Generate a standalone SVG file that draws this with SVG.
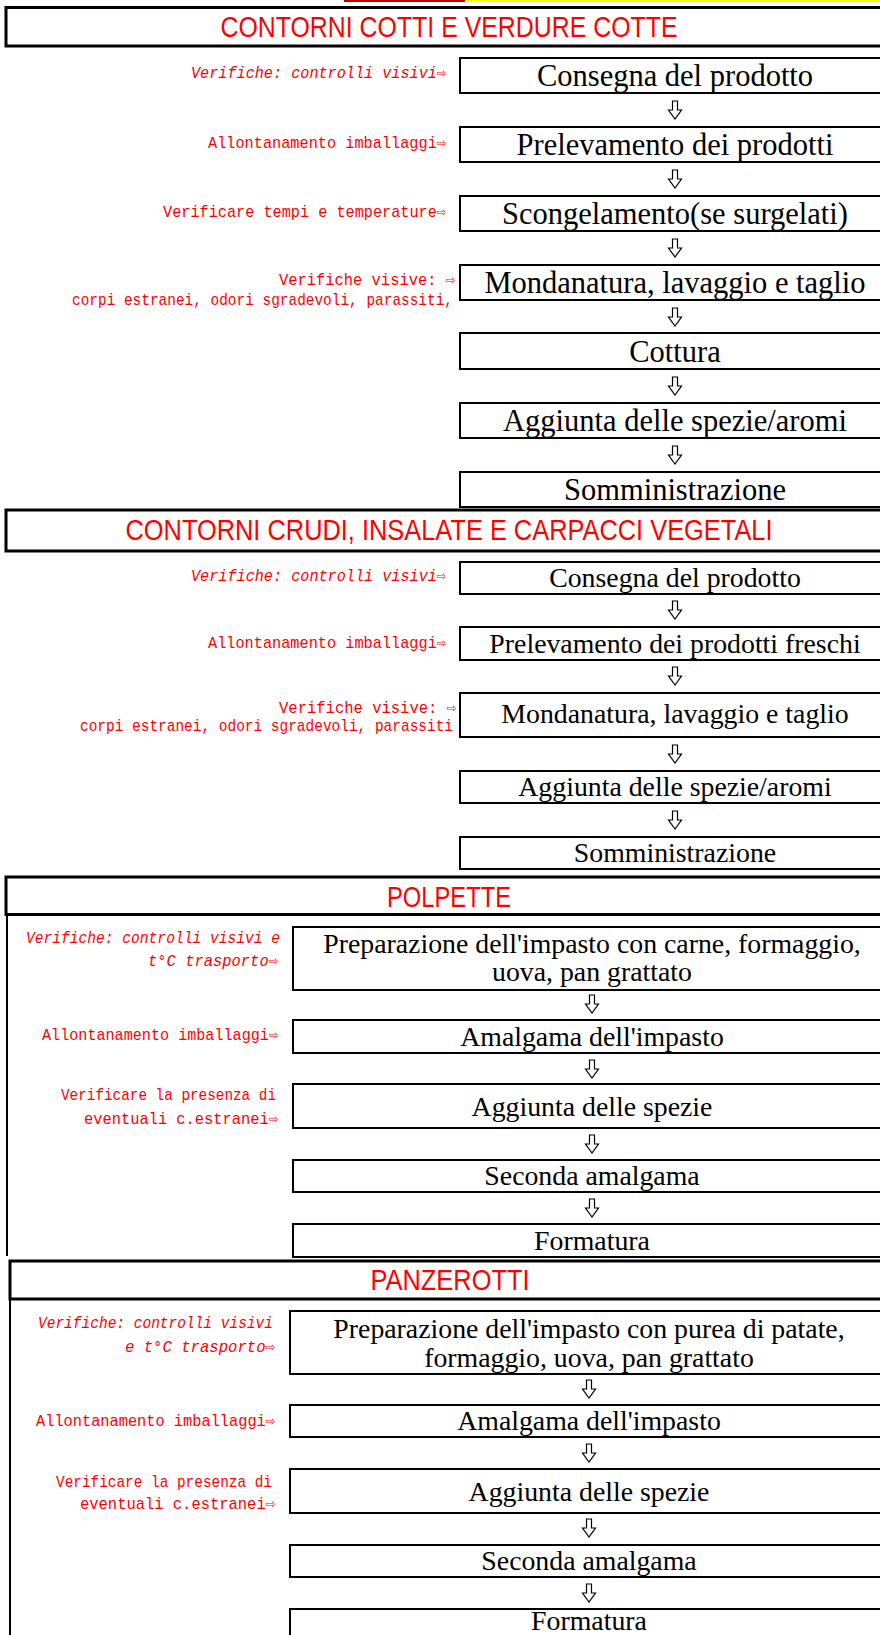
<svg xmlns="http://www.w3.org/2000/svg" xmlns:xlink="http://www.w3.org/1999/xlink" width="880" height="1635" viewBox="0 0 880 1635">
<style>
.hdr{fill:#fff;stroke:#000;stroke-width:3}
.hdrt{font-family:"Liberation Sans",Arial,sans-serif;font-size:29.5px;fill:#ff0000}
.box{fill:#fff;stroke:#000;stroke-width:2}
.t1{font-family:"Liberation Serif","Times New Roman",serif;font-size:30.5px;fill:#000}
.t2{font-family:"Liberation Serif","Times New Roman",serif;font-size:27.8px;fill:#000}
.ann{font-family:"Liberation Mono","DejaVu Sans Mono","DejaVu Sans",monospace;font-size:17px;fill:#ff0000}
.it{font-style:italic}
.arr{fill:#fff;stroke:#000;stroke-width:1.2}
.side{stroke:#000;stroke-width:2;fill:none}
</style>
<defs>
<path id="dn" d="M-2.5,-9 H2.5 V0 H6.5 L0,9 L-6.5,0 H-2.5 Z"/>
</defs>
<rect width="880" height="1635" fill="#fff"/>
<g id="topstrip">
<rect x="344" y="0" width="121" height="2" fill="#c00000"/>
<rect x="465" y="0" width="415" height="2" fill="#ffff00"/>
</g>

<!-- Section 1 -->
<g id="h1"><rect class="hdr" x="6" y="7.5" width="900" height="38.5"/><text class="hdrt" text-anchor="middle" x="449" y="37" textLength="457" lengthAdjust="spacingAndGlyphs">CONTORNI COTTI E VERDURE COTTE</text></g>
<g id="s1n1"><rect class="box" x="460" y="58" width="430" height="35"/><text class="t1" text-anchor="middle" x="675" y="86">Consegna del prodotto</text></g>
<g id="s1n2"><rect class="box" x="460" y="127" width="430" height="35"/><text class="t1" text-anchor="middle" x="675" y="155">Prelevamento dei prodotti</text></g>
<g id="s1n3"><rect class="box" x="460" y="196" width="430" height="35"/><text class="t1" text-anchor="middle" x="675" y="224">Scongelamento(se surgelati)</text></g>
<g id="s1n4"><rect class="box" x="460" y="265" width="430" height="35"/><text class="t1" text-anchor="middle" x="675" y="293">Mondanatura, lavaggio e taglio</text></g>
<g id="s1n5"><rect class="box" x="460" y="333" width="430" height="36"/><text class="t1" text-anchor="middle" x="675" y="362">Cottura</text></g>
<g id="s1n6"><rect class="box" x="460" y="403" width="430" height="35"/><text class="t1" text-anchor="middle" x="675" y="431">Aggiunta delle spezie/aromi</text></g>
<g id="s1n7"><rect class="box" x="460" y="472" width="430" height="35"/><text class="t1" text-anchor="middle" x="675" y="500">Somministrazione</text></g>
<g id="s1a1"><text class="ann it" text-anchor="end" x="446" y="78" textLength="255" lengthAdjust="spacingAndGlyphs">Verifiche: controlli visivi⇨</text></g>
<g id="s1a2"><text class="ann" text-anchor="end" x="446" y="148" textLength="238" lengthAdjust="spacingAndGlyphs">Allontanamento imballaggi⇨</text></g>
<g id="s1a3"><text class="ann" text-anchor="end" x="446" y="217" textLength="283" lengthAdjust="spacingAndGlyphs">Verificare tempi e temperature⇨</text></g>
<g id="s1a4"><text class="ann" text-anchor="end" x="455" y="285" textLength="176" lengthAdjust="spacingAndGlyphs">Verifiche visive: ⇨</text><text class="ann" text-anchor="end" x="453" y="305" textLength="381" lengthAdjust="spacingAndGlyphs">corpi estranei, odori sgradevoli, parassiti,</text></g>

<!-- Section 2 -->
<g id="h2"><rect class="hdr" x="6" y="510" width="900" height="41"/><text class="hdrt" text-anchor="middle" x="449" y="540" textLength="647" lengthAdjust="spacingAndGlyphs">CONTORNI CRUDI, INSALATE E CARPACCI VEGETALI</text></g>
<g id="s2n1"><rect class="box" x="460" y="562" width="430" height="32"/><text class="t2" text-anchor="middle" x="675" y="587">Consegna del prodotto</text></g>
<g id="s2n2"><rect class="box" x="460" y="627" width="430" height="33"/><text class="t2" text-anchor="middle" x="675" y="653">Prelevamento dei prodotti freschi</text></g>
<g id="s2n3"><rect class="box" x="460" y="693" width="430" height="44"/><text class="t2" text-anchor="middle" x="675" y="723">Mondanatura, lavaggio e taglio</text></g>
<g id="s2n4"><rect class="box" x="460" y="771" width="430" height="32"/><text class="t2" text-anchor="middle" x="675" y="796">Aggiunta delle spezie/aromi</text></g>
<g id="s2n5"><rect class="box" x="460" y="837" width="430" height="32"/><text class="t2" text-anchor="middle" x="675" y="862">Somministrazione</text></g>
<g id="s2a1"><text class="ann it" text-anchor="end" x="446" y="581" textLength="255" lengthAdjust="spacingAndGlyphs">Verifiche: controlli visivi⇨</text></g>
<g id="s2a2"><text class="ann" text-anchor="end" x="446" y="648" textLength="238" lengthAdjust="spacingAndGlyphs">Allontanamento imballaggi⇨</text></g>
<g id="s2a3"><text class="ann" text-anchor="end" x="456" y="713" textLength="177" lengthAdjust="spacingAndGlyphs">Verifiche visive: ⇨</text><text class="ann" text-anchor="end" x="453" y="731" textLength="373" lengthAdjust="spacingAndGlyphs">corpi estranei, odori sgradevoli, parassiti</text></g>

<!-- Section 3 -->
<g id="h3"><rect class="hdr" x="6" y="877" width="900" height="37.5"/><text class="hdrt" text-anchor="middle" x="449" y="907" textLength="124" lengthAdjust="spacingAndGlyphs">POLPETTE</text><line class="side" x1="7" y1="914" x2="7" y2="1256"/></g>
<g id="s3n1"><rect class="box" x="293" y="927" width="598" height="63"/><text class="t2" text-anchor="middle" x="592" y="953">Preparazione dell'impasto con carne, formaggio,</text><text class="t2" text-anchor="middle" x="592" y="981">uova, pan grattato</text></g>
<g id="s3n2"><rect class="box" x="293" y="1020" width="598" height="33"/><text class="t2" text-anchor="middle" x="592" y="1046">Amalgama dell'impasto</text></g>
<g id="s3n3"><rect class="box" x="293" y="1084" width="598" height="44"/><text class="t2" text-anchor="middle" x="592" y="1116">Aggiunta delle spezie</text></g>
<g id="s3n4"><rect class="box" x="293" y="1160" width="598" height="32"/><text class="t2" text-anchor="middle" x="592" y="1185">Seconda amalgama</text></g>
<g id="s3n5"><rect class="box" x="293" y="1224" width="598" height="33"/><text class="t2" text-anchor="middle" x="592" y="1250">Formatura</text></g>
<g id="s3a1"><text class="ann it" text-anchor="end" x="280" y="943" textLength="254" lengthAdjust="spacingAndGlyphs">Verifiche: controlli visivi e</text><text class="ann it" text-anchor="end" x="278" y="966" textLength="130" lengthAdjust="spacingAndGlyphs">t°C trasporto⇨</text></g>
<g id="s3a2"><text class="ann" text-anchor="end" x="278" y="1040" textLength="236" lengthAdjust="spacingAndGlyphs">Allontanamento imballaggi⇨</text></g>
<g id="s3a3"><text class="ann" text-anchor="end" x="276" y="1100" textLength="215" lengthAdjust="spacingAndGlyphs">Verificare la presenza di</text><text class="ann" text-anchor="end" x="278" y="1124" textLength="194" lengthAdjust="spacingAndGlyphs">eventuali c.estranei⇨</text></g>

<!-- Section 4 -->
<g id="h4"><rect class="hdr" x="10" y="1261" width="900" height="38"/><text class="hdrt" text-anchor="middle" x="450" y="1290" textLength="159" lengthAdjust="spacingAndGlyphs">PANZEROTTI</text><line class="side" x1="10" y1="1299" x2="10" y2="1640"/></g>
<g id="s4n1"><rect class="box" x="290" y="1311" width="598" height="63"/><text class="t2" text-anchor="middle" x="589" y="1338">Preparazione dell'impasto con purea di patate,</text><text class="t2" text-anchor="middle" x="589" y="1367">formaggio, uova, pan grattato</text></g>
<g id="s4n2"><rect class="box" x="290" y="1405" width="598" height="32"/><text class="t2" text-anchor="middle" x="589" y="1430">Amalgama dell'impasto</text></g>
<g id="s4n3"><rect class="box" x="290" y="1469" width="598" height="44"/><text class="t2" text-anchor="middle" x="589" y="1501">Aggiunta delle spezie</text></g>
<g id="s4n4"><rect class="box" x="290" y="1545" width="598" height="32"/><text class="t2" text-anchor="middle" x="589" y="1570">Seconda amalgama</text></g>
<g id="s4n5"><rect class="box" x="290" y="1609" width="598" height="40"/><text class="t2" text-anchor="middle" x="589" y="1630">Formatura</text></g>
<g id="s4a1"><text class="ann it" text-anchor="end" x="273" y="1328" textLength="235" lengthAdjust="spacingAndGlyphs">Verifiche: controlli visivi</text><text class="ann it" text-anchor="end" x="275" y="1352" textLength="150" lengthAdjust="spacingAndGlyphs">e t°C trasporto⇨</text></g>
<g id="s4a2"><text class="ann" text-anchor="end" x="275" y="1426" textLength="239" lengthAdjust="spacingAndGlyphs">Allontanamento imballaggi⇨</text></g>
<g id="s4a3"><text class="ann" text-anchor="end" x="272" y="1487" textLength="216" lengthAdjust="spacingAndGlyphs">Verificare la presenza di</text><text class="ann" text-anchor="end" x="275" y="1509" textLength="195" lengthAdjust="spacingAndGlyphs">eventuali c.estranei⇨</text></g>

<g id="connectors" class="arr">
<use xlink:href="#dn" x="675" y="110"/>
<use xlink:href="#dn" x="675" y="179"/>
<use xlink:href="#dn" x="675" y="248"/>
<use xlink:href="#dn" x="675" y="317"/>
<use xlink:href="#dn" x="675" y="386"/>
<use xlink:href="#dn" x="675" y="455"/>
<use xlink:href="#dn" x="675" y="610"/>
<use xlink:href="#dn" x="675" y="676"/>
<use xlink:href="#dn" x="675" y="754"/>
<use xlink:href="#dn" x="675" y="820"/>
<use xlink:href="#dn" x="592" y="1004"/>
<use xlink:href="#dn" x="592" y="1069"/>
<use xlink:href="#dn" x="592" y="1144"/>
<use xlink:href="#dn" x="592" y="1208"/>
<use xlink:href="#dn" x="589" y="1389"/>
<use xlink:href="#dn" x="589" y="1453"/>
<use xlink:href="#dn" x="589" y="1528"/>
<use xlink:href="#dn" x="589" y="1593"/>
</g>
</svg>
